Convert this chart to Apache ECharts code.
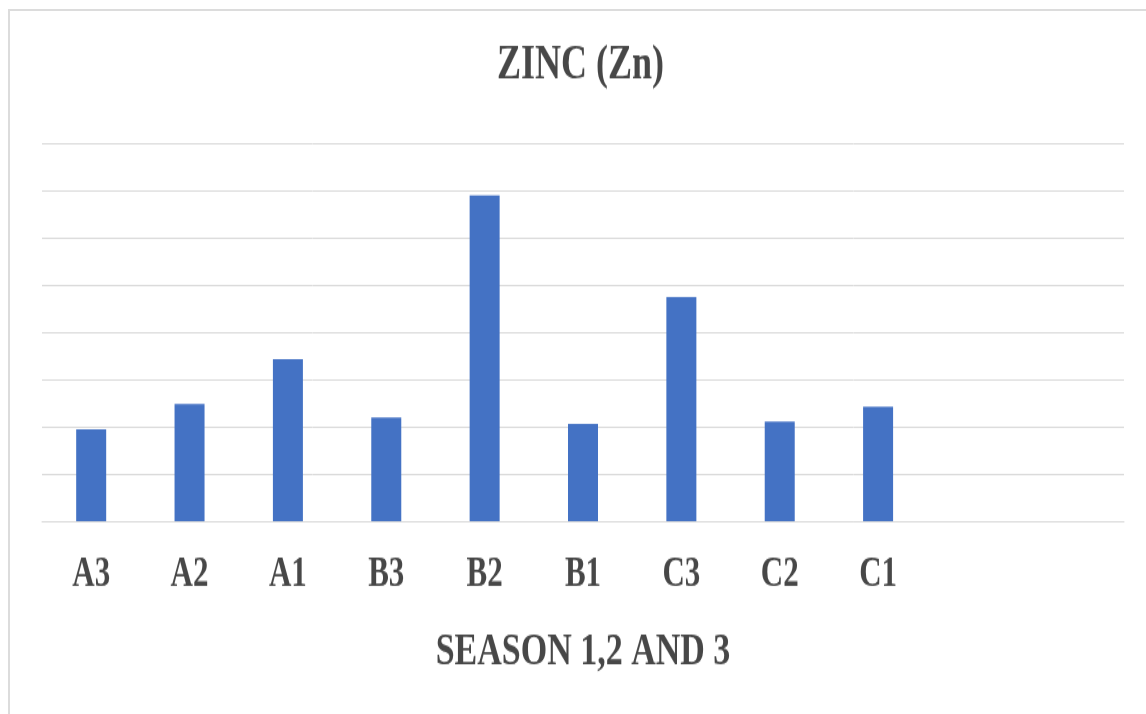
<!DOCTYPE html>
<html>
<head>
<meta charset="utf-8">
<script src="https://cdn.jsdelivr.net/npm/echarts@6/dist/echarts.min.js"></script>
<style>
html, body { margin: 0; padding: 0; background: #fff; overflow: hidden; }
.frame {
  position: absolute; left: 8px; top: 9px; width: 1200px; height: 800px;
  border-top: 2px solid #dcdcdc; border-left: 2px solid #dcdcdc;
}
/* the source picture is stretched vertically, so the chart is too */
#main {
  position: absolute; left: 0; top: 0;
  width: 1146px; height: 529px;
  transform: scaleY(1.35); transform-origin: 0 0;
}
</style>
</head>
<body>
<div class="frame"></div>
<div id="main"></div>
<script>
// sample sites, last two slots are empty in the original
const sites = ['A3', 'A2', 'A1', 'B3', 'B2', 'B1', 'C3', 'C2', 'C1', '', '']
// zinc level, read against the gridlines (one unit per gridline)
const zinc = [1.94, 2.48, 3.43, 2.19, 6.89, 2.06, 4.74, 2.11, 2.42, null, null]
const yTicks = { min: 0, max: 8, interval: 1 }

const textColor = '#474747'
const gridColor = '#d9d9d9'
const serif = '"Liberation Serif", "DejaVu Serif", serif'

const chart = echarts.init(document.getElementById('main'))
chart.setOption({
  animation: false,
  title: {
    text: 'ZINC (Zn)',
    left: 492,
    top: 26,
    textStyle: { fontFamily: serif, fontSize: 36, fontWeight: 'bold', color: textColor }
  },
  grid: { left: 42, right: 22, top: 106, bottom: 143 },
  xAxis: {
    type: 'category',
    data: sites,
    name: 'SEASON 1,2 AND 3',
    nameLocation: 'middle',
    nameGap: 80,
    nameTextStyle: { fontFamily: serif, fontSize: 34, fontWeight: 'bold', color: textColor },
    axisLine: { show: true, lineStyle: { color: gridColor, width: 1 } },
    axisTick: { show: false },
    axisLabel: { margin: 24, fontFamily: serif, fontSize: 31, fontWeight: 'bold', color: textColor }
  },
  yAxis: {
    type: 'value',
    min: yTicks.min,
    max: yTicks.max,
    interval: yTicks.interval,
    axisLine: { show: false },
    axisTick: { show: false },
    axisLabel: { show: false },
    splitLine: { lineStyle: { color: gridColor, width: 1 } }
  },
  series: [
    {
      type: 'bar',
      data: zinc,
      barWidth: 30,
      itemStyle: { color: '#4472c4' }
    }
  ]
})
</script>
</body>
</html>
